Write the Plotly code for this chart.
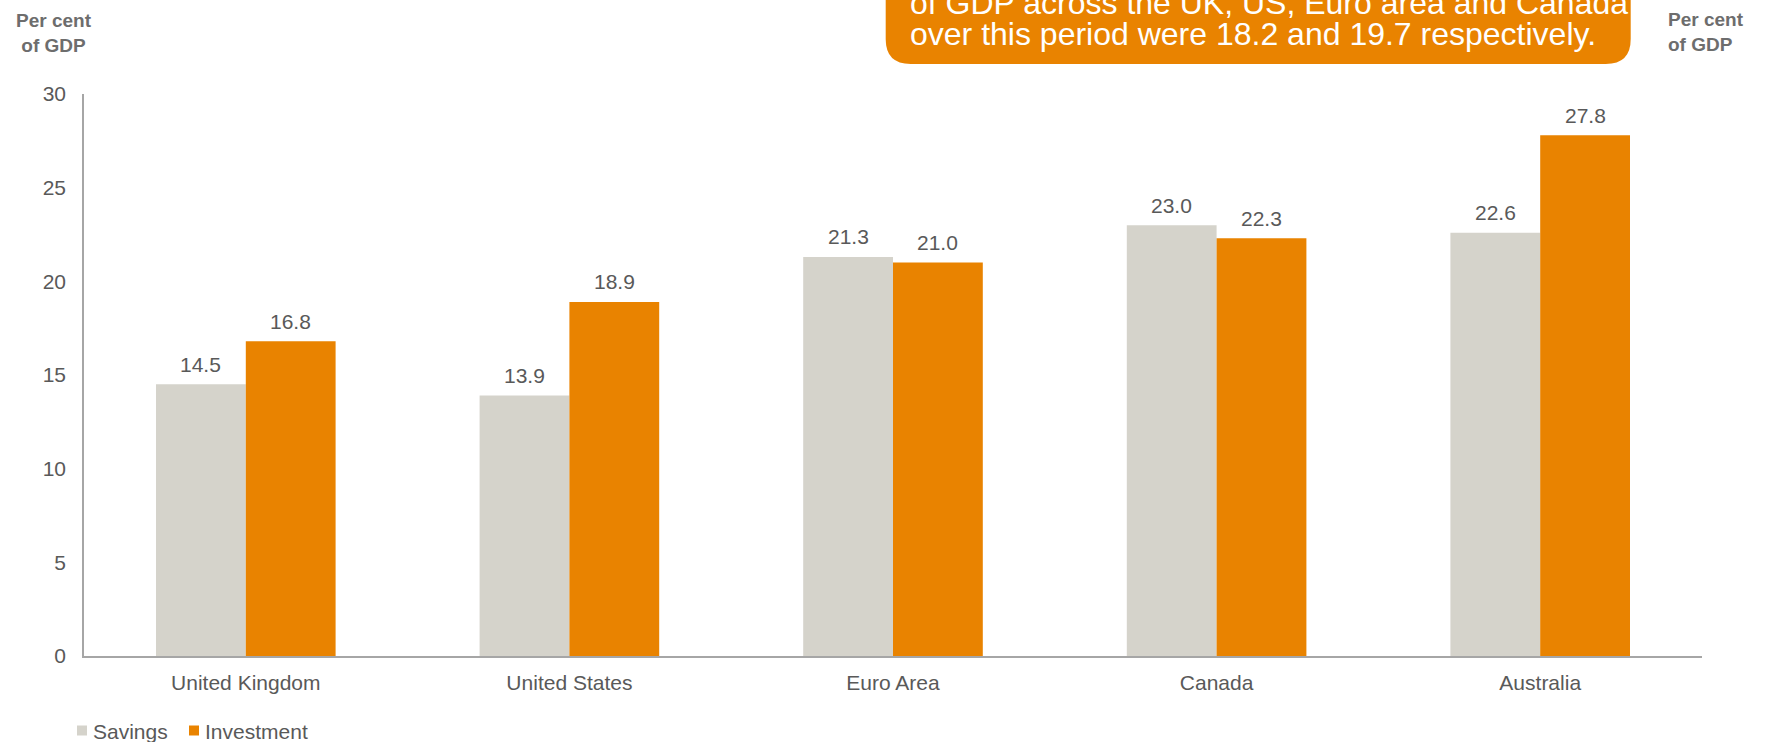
import plotly.graph_objects as go

categories = ["United Kingdom", "United States", "Euro Area", "Canada", "Australia"]
savings = [14.5, 13.9, 21.3, 23.0, 22.6]
investment = [16.8, 18.9, 21.0, 22.3, 27.8]
y_ticks = [0, 5, 10, 15, 20, 25, 30]
series_names = ["Savings", "Investment"]
box_lines = ["of GDP across the UK, US, Euro area and Canada",
             "over this period were 18.2 and 19.7 respectively."]

FONT = "Liberation Sans, Arial, sans-serif"
GREY_TXT = "#595959"
SAV_COL = "#D5D3CB"
INV_COL = "#E98300"
AXIS_COL = "#A6A6A6"

W, H = 1771, 742
ML, MR, MT, MB = 84, 69, 94, 86
PW, PH = W - ML - MR, H - MT - MB

def px_x(p):
    return (p - ML) / PW

def px_y(p):
    return (H - MB - p) / PH

fig = go.Figure()
fig.add_trace(go.Bar(name=series_names[0], x=categories, y=savings, marker_color=SAV_COL,
                     marker_line_width=0, showlegend=False))
fig.add_trace(go.Bar(name=series_names[1], x=categories, y=investment, marker_color=INV_COL,
                     marker_line_width=0, showlegend=False))

bar_half = PW / len(categories) * (1 - 0.445) / 4
annotations = []
for series, shift in ((savings, -bar_half), (investment, bar_half)):
    for c, v in zip(categories, series):
        annotations.append(dict(x=c, y=v, xref="x", yref="y", text=f"{v:.1f}",
                                showarrow=False, xshift=shift, yshift=20,
                                xanchor="center", yanchor="middle",
                                font=dict(family=FONT, size=21, color=GREY_TXT)))

# Axis titles
annotations.append(dict(x=px_x(54), y=px_y(33.5), xref="paper", yref="paper",
                        text="<b>Per cent<br>of GDP</b>", showarrow=False, align="center",
                        xanchor="center", yanchor="middle",
                        font=dict(family=FONT, size=19, color="#6D6D6D")))
annotations.append(dict(x=px_x(1666), y=px_y(32.5), xref="paper", yref="paper",
                        text="<b>Per cent<br>of GDP</b>", showarrow=False, align="left",
                        xanchor="left", yanchor="middle",
                        font=dict(family=FONT, size=19, color="#6D6D6D")))

# Box text
for line, ymid in zip(box_lines, (3, 34)):
    annotations.append(dict(x=px_x(908), y=px_y(ymid), xref="paper", yref="paper",
                            text=line, showarrow=False, align="left",
                            xanchor="left", yanchor="middle",
                            font=dict(family=FONT, size=32, color="white")))

# Legend (manual)
legend_items = [(series_names[0], SAV_COL, 77), (series_names[1], INV_COL, 189)]
shapes = []
for name, col, lx in legend_items:
    shapes.append(dict(type="rect", xref="paper", yref="paper",
                       x0=px_x(lx), x1=px_x(lx + 10), y0=px_y(735.5), y1=px_y(725.5),
                       fillcolor=col, line=dict(width=0)))
    annotations.append(dict(x=px_x(lx + 14), y=px_y(731), xref="paper", yref="paper",
                            text=name, showarrow=False, xanchor="left", yanchor="middle",
                            font=dict(family=FONT, size=21, color=GREY_TXT)))

x0, x1 = px_x(885.7), px_x(1630.7)
yb, yt = px_y(64), px_y(-40)
rx, ry = 25 / PW, 25 / PH
path = (f"M {x0},{yt} L {x0},{yb + ry} Q {x0},{yb} {x0 + rx},{yb} "
        f"L {x1 - rx},{yb} Q {x1},{yb} {x1},{yb + ry} L {x1},{yt} Z")
shapes.insert(0, dict(type="path", xref="paper", yref="paper", path=path,
                      fillcolor=INV_COL, line=dict(width=0), layer="above"))

fig.update_layout(
    width=W, height=H,
    margin=dict(l=ML, r=MR, t=MT, b=MB, autoexpand=False),
    paper_bgcolor="white", plot_bgcolor="white",
    barmode="group", bargap=0.445, bargroupgap=0,
    font=dict(family=FONT, size=21, color=GREY_TXT),
    shapes=shapes,
    annotations=annotations,
    showlegend=False,
    xaxis=dict(showline=True, linecolor=AXIS_COL, linewidth=1.5, ticks="",
               showgrid=False, tickfont=dict(family=FONT, size=21, color=GREY_TXT),
               ticklabelstandoff=7, automargin=False),
    yaxis=dict(range=[0, 30], tickvals=y_ticks, showline=True, linecolor=AXIS_COL,
               linewidth=1.5, ticks="", showgrid=False, zeroline=False,
               tickfont=dict(family=FONT, size=21, color=GREY_TXT), ticklabelstandoff=12,
               automargin=False),
    yaxis2=dict(range=[0, 30], tickvals=y_ticks, overlaying="y", side="right",
                showline=True, linecolor=AXIS_COL, linewidth=1.5, ticks="",
                showgrid=False, zeroline=False,
                tickfont=dict(family=FONT, size=21, color=GREY_TXT), ticklabelstandoff=23,
                automargin=False),
)

fig.write_html("out.html", config={"displayModeBar": False},
               post_script="document.body.style.margin='0';document.body.style.overflow='hidden';")
